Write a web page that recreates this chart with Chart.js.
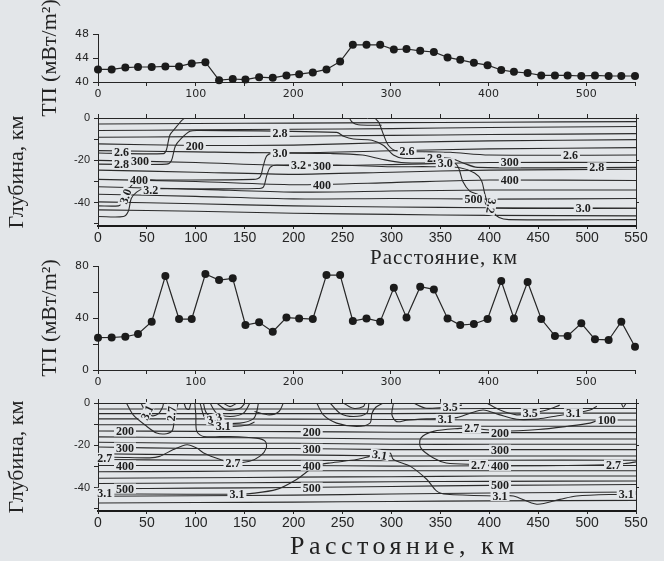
<!DOCTYPE html>
<html lang="ru">
<head>
<meta charset="utf-8">
<title>Тепловой поток и разрезы</title>
<script src="https://cdn.jsdelivr.net/npm/chart.js@4.4.0/dist/chart.umd.min.js"></script>
<style>
  html, body { margin: 0; padding: 0; background: #e3e6e9; }
  #page { position: relative; width: 664px; height: 561px; overflow: hidden; }
  #page canvas { position: absolute; left: 0; }
  .xtitle { position: absolute; font-family: "Liberation Serif", "Times New Roman", serif; color: #222; white-space: nowrap; }
</style>
</head>
<body>
<div id="page">
  <canvas id="flowTop" width="664" height="130" style="top:0"></canvas>
  <canvas id="sectionTop" width="664" height="150" style="top:100px"></canvas>
  <canvas id="flowBottom" width="664" height="150" style="top:245px"></canvas>
  <canvas id="sectionBottom" width="664" height="150" style="top:385px"></canvas>
  <div class="xtitle" style="left:370px;top:245px;font-size:21px;letter-spacing:1px">Расстояние, км</div>
  <div class="xtitle" style="left:290px;top:531px;font-size:26px;letter-spacing:4.5px">Расстояние, км</div>
</div>
<script>
'use strict';

const BG = '#e3e6e9';
const INK = '#262626';
const SERIF = '"Liberation Serif", "Times New Roman", serif';

// stations along the profile, km
let stations = [0, 14, 28, 41, 55, 69, 83, 96, 110, 124, 138, 151, 165, 179, 193, 206, 220, 234, 248, 261,
  275, 289, 303, 316, 330, 344, 358, 371, 385, 399, 413, 426, 440, 454, 468, 481, 495, 509, 523, 536, 550];

// heat flow, mW/m2
let flowUpper = [42.1, 42.1, 42.4, 42.5, 42.5, 42.6, 42.6, 43.1, 43.3, 40.3, 40.5, 40.4, 40.8, 40.7, 41.1, 41.3,
  41.6, 42.1, 43.4, 46.2, 46.2, 46.2, 45.4, 45.5, 45.2, 45.0, 44.1, 43.7, 43.2, 42.8, 42.0, 41.7, 41.5, 41.1,
  41.1, 41.1, 41.0, 41.1, 41.0, 41.0, 41.0];
let flowLower = [24.9, 25.0, 25.6, 27.7, 37.2, 72.3, 39.2, 39.2, 73.8, 69.2, 70.5, 34.6, 36.7, 29.5, 40.3, 39.7,
  39.2, 73.0, 73.0, 37.7, 39.7, 37.2, 63.3, 40.3, 64.1, 62.0, 39.7, 34.6, 35.4, 39.2, 68.5, 39.7, 67.7, 39.2,
  26.2, 26.2, 35.9, 23.6, 23.1, 37.2, 17.9];

// isotherm depths (km) read at these distances
let isoX = [0, 100, 200, 300, 400, 550];
let isothermsUpper = [
  [-2.8, -2.6, -2.4, -2.2, -2.0, -1.7],
  [-5.9, -5.6, -5.3, -5.0, -4.5, -4.0],
  [-9.1, -8.8, -8.6, -8.2, -7.8, -7.4],
  [-12.2, -13.0, -12.8, -11.6, -10.8, -10.2],
  [-15.4, -16.0, -16.4, -15.5, -14.6, -14.0],
  [-20.0, -21.0, -22.5, -22.0, -21.0, -21.0],
  [-24.6, -25.6, -26.6, -25.6, -24.6, -24.2],
  [-29.0, -30.0, -31.5, -30.5, -29.3, -29.5],
  [-32.5, -33.6, -35.0, -34.5, -34.0, -34.0],
  [-36.0, -37.0, -38.2, -38.0, -38.3, -38.0],
  [-39.6, -40.5, -41.5, -42.0, -42.4, -42.6],
  [-43.4, -44.0, -45.0, -45.5, -46.0, -46.2]
];
let isothermsLower = [
  [-2.8, -2.8, -2.8, -2.8, -2.6, -2.6],
  [-5.0, -5.0, -5.0, -5.0, -4.8, -4.8],
  [-7.5, -7.5, -7.6, -7.8, -8.0, -8.0],
  [-10.3, -10.3, -10.5, -10.8, -11.0, -11.0],
  [-13.2, -13.4, -13.5, -13.8, -14.0, -14.0],
  [-16.0, -16.3, -16.5, -17.0, -17.0, -17.0],
  [-18.5, -19.0, -19.0, -19.5, -19.5, -19.5],
  [-20.8, -21.5, -21.5, -22.0, -22.0, -22.0],
  [-24.0, -24.5, -24.5, -25.0, -25.0, -25.0],
  [-26.7, -27.0, -27.0, -27.3, -27.0, -27.0],
  [-29.5, -29.5, -29.5, -29.8, -29.6, -29.5],
  [-32.5, -32.3, -32.0, -32.0, -32.0, -32.0],
  [-35.5, -35.3, -35.0, -34.8, -34.5, -34.5],
  [-38.0, -37.8, -37.5, -37.2, -37.0, -36.8],
  [-40.5, -40.2, -39.9, -39.4, -38.9, -38.5],
  [-44.0, -43.8, -43.5, -43.0, -42.5, -42.0],
  [-47.2, -47.0, -46.8, -46.5, -46.2, -46.0]
];

// other contour lines as [km, depth] vertices
let contoursUpper = [
  [[0, -16.5], [67, -16.8], [70, -15], [73.5, -8], [79, -4.8], [86, -1], [89, 0]],
  [[283, 0], [287, -2], [292, -8], [297, -13], [305, -15.5], [340, -16], [360, -16.2], [400, -17.5], [550, -17.5]],
  [[257, 0], [260, -2], [266, -3.2], [290, -3.4]],
  [[0, -21.8], [70, -21.8], [75, -20.2], [79, -13.3], [84, -10.2], [94, -6.3], [104, -5.9], [244, -6.8],
    [251, -8.6], [261, -9.9], [280, -10.5], [292, -13], [302, -17.5], [312, -19], [340, -19], [360, -19],
    [372, -21], [388, -23.3], [550, -23.3]],
  [[0, -41.5], [21, -41.5], [24, -40.3], [28, -37], [33, -32.6], [40, -29.5], [60, -29.3], [159, -29],
    [165.6, -27.9], [169, -22.5], [172.5, -17.9], [177.6, -16.7], [240, -16.8], [270, -17.5], [290, -19.5],
    [310, -21], [350, -21.3], [365, -21.5], [369, -24], [373, -30], [380, -34.5], [388, -36], [393, -38],
    [398, -41.5], [405, -42.6], [550, -42.6]],
  [[0, -46.5], [26, -46.5], [31, -44], [34, -38], [39.5, -35], [46, -33.5], [100, -33.5], [162, -33.3],
    [169, -32.6], [172.5, -27.2], [176, -23.3], [183, -22.2], [250, -22.3], [300, -23], [340, -23], [370, -23.5],
    [385, -26], [392, -29.5], [395, -35], [398, -40], [403, -44], [410, -47], [420, -48], [550, -48]]
];
let contoursLower = [
  [[0, -25.8], [16, -25.6], [53, -25.9], [63, -25.2], [77, -22], [91, -19.7], [101, -21.3], [108, -23.6],
    [125, -26.7], [138, -28.3], [155, -27.5], [166, -25], [172, -21.3], [171, -18.1], [162, -16.6], [135, -15.8],
    [108, -15.8], [101, -13.4], [100, -5.6], [99, 0]],
  [[550, -27.8], [540, -28.5], [527, -29.1], [480, -29.5], [411, -29.6], [389, -29.1], [356, -28.3], [343, -26],
    [330, -21.2], [330, -16.6], [343, -13.4], [370, -12], [382, -11.9], [411, -13.2], [450, -12.5], [480, -11],
    [503, -9.5], [512, -8]],
  [[29, 0], [36, -5.6], [50, -11.1], [60, -14.2], [70, -14.5], [76, -13], [78, -8], [80, -3], [82, 0]],
  [[44, 0], [48, -3.5], [55, -6], [62, -5], [66, -2], [67, 0]],
  [[88, 0], [90, -2.5], [93, -3], [95, 0]],
  [[104.3, 0], [109.4, -7.2], [121.4, -11.1], [135, -11.1], [152, -10.5], [160, -9]],
  [[107.7, 0], [111, -4.8], [124.7, -9.1], [145, -9.5], [158.8, -7.5], [162.3, -4], [164, 0]],
  [[114.5, 0], [121.4, -4.8], [135, -6.4], [148.6, -4.8], [155.4, 0]],
  [[121.4, 0], [131.6, -3.3], [145.2, -2.5], [150.3, 0]],
  [[128, 0], [135, -1.7], [142, 0]],
  [[160, -4], [175, -5.6], [185, -4], [189.5, 0]],
  [[223.6, 0], [230.4, -5.6], [244, -9.5], [264.5, -11.1], [278, -9.5], [280, -5], [284, -2], [291.7, 0]],
  [[237.2, 0], [247.4, -4.8], [261, -6.4], [274.7, -4.8], [277, 0]],
  [[250.8, 0], [261, -2.5], [271.3, -1.7], [273, 0]],
  [[302, 0], [300.5, -5.6], [305.4, -8.8], [315.6, -8.1], [336, -7.5], [366.7, -6.9], [380.4, -4.8], [394, -3.3],
    [410, -5.5], [428, -7.7], [450, -7.5], [470, -6], [486, -4.8], [503, -3.3], [510, -1.5]],
  [[322.4, 0], [336, -2.5], [360, -1.7], [372, -1]],
  [[397.4, 0], [411, -3.3], [428, -5.6], [442, -4.8], [458.6, -3.3], [472, -1]],
  [[535, 0], [537, -2], [540, 0]],
  [[0, -43], [40, -43], [142, -43.1], [155.4, -42.8], [182.7, -40.8], [203, -36.1], [216.8, -31.4],
    [223.6, -29.5], [237.2, -28.3], [264.5, -26.7], [278, -25.2], [290, -24], [298.6, -23.6], [302, -26.7],
    [319, -29.8], [336, -36], [346.3, -41.6], [356.5, -43.1], [411, -43.9], [424.7, -43.9], [448.6, -47.8],
    [472.3, -45.5], [489.3, -43.9], [533.7, -43.1], [550, -43]]
];

// contour labels: [km, depth, text, rotation in degrees]
let labelsUpper = [
  [24, -16.2, '2.6', 0], [24, -21.8, '2.8', 0], [43, -20.4, '300', 0], [42, -29.2, '400', 0],
  [28, -37, '3.0', -70], [54, -33.8, '3.2', 0], [99, -13.0, '200', 0], [186, -7.0, '2.8', 0],
  [186, -16.6, '3.0', 0], [205, -22.2, '3.2', 0], [229, -22.5, '300', 0], [229, -31.5, '400', 0],
  [316, -15.6, '2.6', 0], [344, -18.8, '2.8', 0], [355, -21.3, '3.0', 0], [421, -20.9, '300', 0],
  [421, -29.4, '400', 0], [384, -38.3, '500', 0], [402, -41.5, '3.2', 100], [483, -17.5, '2.6', 0],
  [510, -23.3, '2.8', 0], [496, -42.6, '3.0', 0]
];
let labelsLower = [
  [27.6, -13.4, '200', 0], [27.6, -21.0, '300', 0], [7, -25.9, '2.7', 0], [27.6, -29.5, '400', 0],
  [7, -42.4, '3.1', 0], [27.6, -40.4, '500', 0], [50, -4.5, '3.1', -65], [75, -5, '2.7', -85],
  [119, -7.2, '3.3', -15], [128, -10.6, '3.1', 0], [138, -28.3, '2.7', 0], [142, -43.1, '3.1', 0],
  [218.5, -13.5, '200', 0], [218.5, -21.6, '300', 0], [218.5, -29.6, '400', 0], [218.5, -39.9, '500', 0],
  [288, -24.4, '3.1', 10], [360, -1.7, '3.5', 0], [355, -7.5, '3.1', 0], [382, -11.9, '2.7', 0],
  [411, -14.0, '200', 0], [411, -22.0, '300', 0], [389, -29.1, '2.7', 0], [411, -29.7, '400', 0],
  [411, -38.9, '500', 0], [411, -43.9, '3.1', 0], [442, -4.8, '3.5', 0], [486, -4.8, '3.1', 0],
  [520, -8, '100', 0], [527, -29.1, '2.7', 0], [540, -43.1, '3.1', 0]
];

function labelPlugin(items) {
  return {
    id: 'contourLabels',
    afterDatasetsDraw(chart) {
      let ctx = chart.ctx;
      let xs = chart.scales.x;
      let ys = chart.scales.y;
      ctx.save();
      ctx.font = 'bold 12px ' + SERIF;
      ctx.textAlign = 'center';
      ctx.textBaseline = 'middle';
      items.forEach(item => {
        let px = xs.getPixelForValue(item[0]);
        let py = ys.getPixelForValue(item[1]);
        let w = ctx.measureText(item[2]).width;
        ctx.save();
        ctx.translate(px, py);
        ctx.rotate(item[3] * Math.PI / 180);
        ctx.fillStyle = BG;
        ctx.fillRect(-w / 2 - 2, -5, w + 4, 10);
        ctx.fillStyle = '#1e1e1e';
        ctx.fillText(item[2], 0, 1);
        ctx.restore();
      });
      ctx.restore();
    }
  };
}

function drawHeatFlow(id, values, yMin, yMax, yStep, labelStep, padTop, padBottom) {
  let points = [];
  for (let i = 0; i < stations.length; i++) {
    points.push({ x: stations[i], y: values[i] });
  }
  new Chart(document.getElementById(id), {
    type: 'line',
    data: {
      datasets: [{
        data: points,
        borderColor: INK,
        borderWidth: 1.2,
        pointRadius: 4,
        pointBackgroundColor: '#1b1b1b',
        pointBorderColor: '#1b1b1b',
        pointBorderWidth: 0,
        tension: 0,
        clip: false
      }]
    },
    options: {
      responsive: false,
      animation: false,
      events: [],
      layout: { padding: { left: 33, right: 29, top: padTop, bottom: padBottom } },
      plugins: { legend: { display: false }, tooltip: { enabled: false } },
      scales: {
        x: {
          type: 'linear', min: 0, max: 550,
          ticks: {
            stepSize: 50, autoSkip: false, maxRotation: 0, padding: 2, color: INK,
            font: { family: 'DejaVu Sans', size: 11 },
            callback: v => (v % 100 === 0 ? String(v) : '')
          },
          grid: { drawOnChartArea: false, tickLength: 4, color: INK },
          border: { color: INK, width: 1 },
          afterFit: s => { s.height = 22; }
        },
        y: {
          min: yMin, max: yMax,
          ticks: {
            stepSize: yStep, padding: 4, color: INK,
            font: { family: 'DejaVu Sans', size: 11 },
            callback: v => (v % labelStep === 0 ? String(v) : '')
          },
          grid: { drawOnChartArea: false, tickLength: 5, color: INK },
          border: { color: INK, width: 1 },
          title: { display: true, text: 'ТП (мВт/m²)', color: '#222', font: { family: SERIF, size: 22 }, padding: { top: 4, bottom: 0 } },
          afterFit: s => { s.width = 65; }
        }
      }
    }
  });
}

function lineSet(points, tension) {
  return {
    data: points,
    borderColor: '#2b2b2b',
    borderWidth: 1.1,
    pointRadius: 0,
    tension: tension
  };
}

function drawSection(id, isotherms, contours, labels, padTop, padBottom) {
  let datasets = [];
  isotherms.forEach(depths => {
    datasets.push(lineSet(isoX.map((x, i) => ({ x: x, y: depths[i] })), 0.25));
  });
  contours.forEach(line => {
    datasets.push(lineSet(line.map(p => ({ x: p[0], y: p[1] })), 0.3));
  });
  new Chart(document.getElementById(id), {
    type: 'line',
    data: { datasets: datasets },
    plugins: [labelPlugin(labels)],
    options: {
      responsive: false,
      animation: false,
      events: [],
      layout: { padding: { left: 0, right: 24, top: padTop, bottom: padBottom } },
      plugins: { legend: { display: false }, tooltip: { enabled: false } },
      scales: {
        x: {
          type: 'linear', position: 'bottom', min: 0, max: 550,
          ticks: { stepSize: 50, autoSkip: false, maxRotation: 0, padding: 1, color: INK, font: { family: 'Liberation Sans', size: 14 } },
          grid: { drawOnChartArea: false, tickLength: 3, color: INK },
          border: { color: '#1a1a1a', width: 2 },
          afterFit: s => { s.height = 22; }
        },
        xTop: {
          type: 'linear', position: 'top', min: 0, max: 550,
          ticks: { display: false, stepSize: 50 },
          grid: { drawOnChartArea: false, tickLength: 4, color: INK },
          border: { color: INK, width: 1 },
          afterFit: s => { s.height = 4; }
        },
        y: {
          min: -51, max: 0,
          ticks: {
            stepSize: 10, includeBounds: false, padding: 4, color: INK,
            font: { family: 'Liberation Sans', size: 11 },
            callback: v => (v % 20 === 0 ? String(v) : '')
          },
          grid: { drawOnChartArea: false, tickLength: 4, color: INK },
          border: { color: INK, width: 1 },
          title: { display: true, text: 'Глубина, км', color: '#222', font: { family: SERIF, size: 22 }, padding: { top: 4, bottom: 0 } },
          afterFit: s => { s.width = 98; }
        },
        yRight: {
          position: 'right', min: -51, max: 0,
          ticks: { display: false, stepSize: 20, includeBounds: false },
          grid: { drawOnChartArea: false, tickLength: 3, color: INK },
          border: { color: INK, width: 1 },
          afterFit: s => { s.width = 4; }
        }
      }
    }
  });
}

drawHeatFlow('flowTop', flowUpper, 40, 48, 2, 4, 34, 26);
drawSection('sectionTop', isothermsUpper, contoursUpper, labelsUpper, 14, 2);
drawHeatFlow('flowBottom', flowLower, 0, 80, 20, 40, 21, 3);
drawSection('sectionBottom', isothermsLower, contoursLower, labelsLower, 14, 2);
</script>
</body>
</html>
